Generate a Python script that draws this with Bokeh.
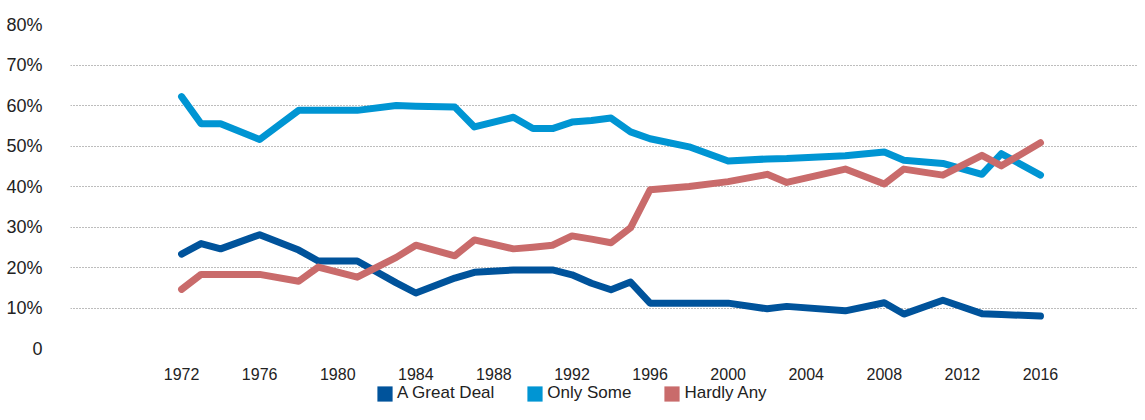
from bokeh.plotting import figure
from bokeh.layouts import column
from bokeh.models import ColumnDataSource, Range1d, FixedTicker, Legend, LegendItem
from bokeh.embed import file_html
from bokeh.resources import INLINE

# ---- data ----
years = [1972, 1973, 1974, 1976, 1978, 1979, 1981, 1983, 1984, 1986, 1987, 1989,
         1990, 1991, 1992, 1993, 1994, 1995, 1996, 1998, 2000, 2002, 2003, 2006,
         2008, 2009, 2011, 2013, 2014, 2016]
great_deal = [23.3, 25.9, 24.6, 28.1, 24.3, 21.6, 21.6, 16.2, 13.7, 17.4, 18.8, 19.4,
              19.4, 19.4, 18.2, 16.1, 14.5, 16.4, 11.2, 11.2, 11.2, 9.8, 10.4, 9.3,
              11.3, 8.5, 11.9, 8.6, 8.4, 8.0]
only_some = [62.2, 55.5, 55.5, 51.6, 58.8, 58.8, 58.8, 60.0, 59.8, 59.6, 54.7, 57.1,
             54.3, 54.3, 55.9, 56.3, 56.9, 53.5, 51.8, 49.8, 46.3, 46.8, 46.9, 47.6,
             48.5, 46.5, 45.7, 43.0, 48.1, 42.8]
hardly_any = [14.6, 18.3, 18.3, 18.3, 16.6, 20.1, 17.6, 22.5, 25.5, 22.9, 26.8, 24.6,
              25.0, 25.5, 27.8, 27.0, 26.1, 29.8, 39.2, 40.0, 41.2, 43.0, 41.0, 44.3,
              40.6, 44.3, 42.8, 47.7, 45.1, 50.8]

series_names = ["A Great Deal", "Only Some", "Hardly Any"]
series_keys = ["great_deal", "only_some", "hardly_any"]
series_colors = ["#00539B", "#0095D3", "#C96B6B"]

x_ticks = [1972, 1976, 1980, 1984, 1988, 1992, 1996, 2000, 2004, 2008, 2012, 2016]
x_tick_labels = ["1972", "1976", "1980", "1984", "1988", "1992", "1996", "2000",
                 "2004", "2008", "2012", "2016"]
y_ticks = [0, 10, 20, 30, 40, 50, 60, 70, 80]
y_tick_labels = ["0", "10%", "20%", "30%", "40%", "50%", "60%", "70%", "80%"]

src = ColumnDataSource(data=dict(year=years, great_deal=great_deal,
                                 only_some=only_some, hardly_any=hardly_any))

FONT = "Liberation Sans"
TXT = "#222222"

# ---- main chart ----
p = figure(width=1137, height=382, output_backend="svg", toolbar_location=None,
           x_range=Range1d(1966.31, 2020.97), y_range=Range1d(0, 80),
           min_border_left=70, min_border_right=0, min_border_top=24,
           min_border_bottom=34)
p.outline_line_color = None
p.background_fill_color = "white"
p.border_fill_color = "white"

p.xgrid.visible = False
p.ygrid.grid_line_color = "#7a7a7a"
p.ygrid.grid_line_dash = "1 2"
p.ygrid.grid_line_width = 1

p.yaxis.ticker = FixedTicker(ticks=y_ticks)
p.yaxis.major_label_overrides = dict(zip(y_ticks, y_tick_labels))
p.xaxis.ticker = FixedTicker(ticks=x_ticks)
p.xaxis.major_label_overrides = dict(zip(x_ticks, x_tick_labels))

for ax in (p.xaxis, p.yaxis):
    ax.axis_line_color = None
    ax.major_tick_line_color = None
    ax.minor_tick_line_color = None
    ax.major_label_text_font = FONT
    ax.major_label_text_color = TXT
p.yaxis.major_label_text_font_size = "18px"
p.yaxis.major_label_standoff = 22
p.xaxis.major_label_text_font_size = "16px"
p.xaxis.major_label_standoff = 13

for key, color in zip(series_keys, series_colors):
    p.line(x="year", y=key, source=src, line_color=color, line_width=7,
           line_cap="round", line_join="round")

# ---- legend strip (a second, axis-less figure under the chart) ----
lg = figure(width=1137, height=22, output_backend="svg", toolbar_location=None,
            x_axis_type=None, y_axis_type=None,
            x_range=Range1d(0, 1), y_range=Range1d(0, 1),
            min_border=0, min_border_left=0, min_border_right=0,
            min_border_top=0, min_border_bottom=0)
lg.outline_line_color = None
lg.grid.visible = False
lg.background_fill_color = "white"
lg.border_fill_color = "white"

# zero-size swatch holders: they draw nothing, they only give the legend its squares
swatch = ColumnDataSource(data=dict(left=[0], right=[0], top=[0], bottom=[0]))
items = []
for name, color in zip(series_names, series_colors):
    r = lg.quad(left="left", right="right", top="top", bottom="bottom", source=swatch,
                fill_color=color, line_color=None)
    items.append(LegendItem(label=name, renderers=[r]))

legend = Legend(items=items, orientation="horizontal", location=(305, 1),
                glyph_width=19, glyph_height=19, label_standoff=3, spacing=31,
                padding=0, margin=0, border_line_color=None,
                background_fill_alpha=0, label_text_font=FONT,
                label_text_font_size="17px", label_text_color=TXT)
lg.add_layout(legend)

layout = column(p, lg, spacing=0)
open("out.html", "w").write(file_html(layout, INLINE))
